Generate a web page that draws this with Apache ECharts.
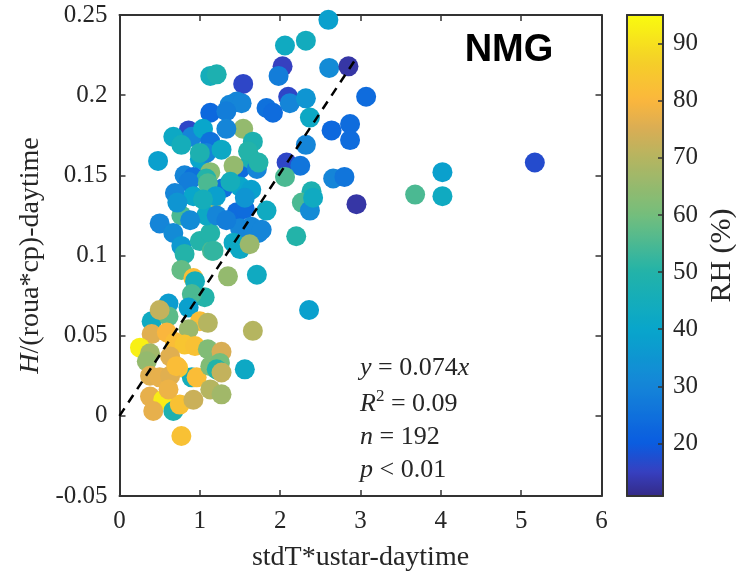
<!DOCTYPE html>
<html><head><meta charset="utf-8">
<script src="https://cdn.jsdelivr.net/npm/echarts@6/dist/echarts.min.js"></script>
<style>html,body{margin:0;padding:0;background:#fff}#c{width:736px;height:578px}</style>
</head><body><div id="c"></div>
<script>
// stdT*ustar-daytime
const xVals=[2.60,2.06,2.32,2.03,1.98,2.61,2.85,3.07,2.10,2.12,2.32,1.83,1.91,2.37,2.64,2.87,2.87,2.32,2.08,2.25,
2.06,2.66,2.80,2.95,2.39,2.27,2.37,2.41,2.20,5.17,4.02,3.68,4.02,2.36,1.66,1.71,1.35,1.83,1.58,1.73,
1.13,1.21,1.54,1.46,1.37,1.52,1.13,1.33,0.86,0.90,0.67,0.77,1.04,1.54,1.33,1.66,1.13,1.00,1.08,0.48,
1.10,1.50,1.64,1.60,1.71,1.42,0.81,0.92,1.13,1.08,1.73,0.86,0.69,0.92,1.15,1.29,1.10,1.50,1.64,0.50,
0.77,0.67,0.77,0.81,0.77,1.00,1.15,1.13,1.08,1.21,1.46,1.56,1.50,1.64,1.77,1.42,1.50,1.62,1.17,0.92,
0.94,1.06,0.90,0.61,0.86,0.40,0.61,0.50,1.00,1.10,0.86,0.40,0.59,0.255,0.69,0.81,0.94,0.38,1.10,1.27,
0.34,0.63,0.90,0.73,0.38,0.50,0.63,0.96,1.13,1.25,1.13,1.56,1.21,1.27,0.38,0.545,0.67,0.75,0.92,0.61,
0.42,0.77,1.27,0.71,1.00,1.27,1.38,1.20,1.33,1.56,0.88,1.04,0.72];
// H/(roua*cp)-daytime
const yVals=[0.247,0.231,0.234,0.218,0.212,0.217,0.218,0.199,0.199,0.195,0.198,0.192,0.189,0.186,0.178,0.182,0.172,0.169,0.158,0.156,
0.149,0.148,0.149,0.132,0.140,0.133,0.128,0.136,0.112,0.158,0.152,0.138,0.137,0.066,0.053,0.088,0.087,0.128,0.116,0.114,
0.212,0.213,0.207,0.196,0.194,0.195,0.189,0.190,0.178,0.174,0.174,0.169,0.179,0.179,0.179,0.171,0.171,0.160,0.164,0.159,
0.150,0.154,0.160,0.165,0.154,0.156,0.150,0.149,0.152,0.148,0.158,0.146,0.139,0.137,0.134,0.142,0.145,0.143,0.141,0.120,
0.125,0.114,0.106,0.101,0.091,0.109,0.103,0.114,0.125,0.125,0.127,0.129,0.117,0.118,0.116,0.108,0.104,0.107,0.103,0.086,
0.084,0.074,0.076,0.070,0.0675,0.059,0.062,0.066,0.059,0.058,0.054,0.051,0.052,0.0425,0.046,0.0445,0.0435,0.039,0.0415,0.040,
0.034,0.037,0.024,0.030,0.025,0.024,0.025,0.024,0.031,0.033,0.0165,0.029,0.029,0.0134,0.012,0.010,0.003,0.007,0.010,0.0165,
0.003,-0.0126,0.027,0.031,0.164,0.166,0.146,0.137,0.122,0.136,0.122,0.135,0.133];
// RH (%)
const rhVals=[38,43,44,15,28,32,13,24,16,30,35,25,24,42,23,24,24,30,16,26,
55,30,26,13,48,55,32,43,50,17,38,55,43,38,70,43,65,43,30,30,
45,48,16,30,30,30,23,28,16,30,42,45,40,65,30,48,25,40,30,38,
50,24,48,50,30,65,30,25,63,50,50,28,30,40,66,25,55,40,38,30,
55,32,36,50,58,50,55,50,42,30,24,24,30,30,30,42,42,66,52,82,
45,50,55,37,38,43,57,72,82,70,66,76,80,93,82,84,83,67,62,75,
65,76,45,84,76,77,76,82,62,60,70,42,50,67,77,92,48,83,73,78,
77,83,72,82,48,42,45,38,28,35,32,45,35];
const regX=[0,2.92];
const regY=[0,0.221];
const cbTicks=[20,30,40,50,60,70,80,90];
const rhMin=10.8, rhMax=95;
// colour stops (RH value -> colour)
const stopVals=[10.8,15,20,30,40,50,60,70,75,80,87,95];
const stopCols=['#352a87','#3640c0','#0a5ce0','#1585d8','#08a6cb','#22b3a9','#74be7c','#b5b560','#d9ad55','#fbb63d','#f5d028','#f9fb0e'];

function hex2rgb(h){return [1,3,5].map(i=>parseInt(h.substr(i,2),16));}
function colAt(v){
  let k=0; while(k<stopVals.length-2 && v>stopVals[k+1]) k++;
  const t=Math.min(1,Math.max(0,(v-stopVals[k])/(stopVals[k+1]-stopVals[k])));
  const a=hex2rgb(stopCols[k]), b=hex2rgb(stopCols[k+1]);
  return 'rgb('+a.map((c,j)=>Math.round(c+(b[j]-c)*t)).join(',')+')';
}
const ramp=[]; for(let i=0;i<=120;i++) ramp.push(colAt(rhMin+(rhMax-rhMin)*i/120));

const pts=xVals.map((x,i)=>[x,yVals[i],rhVals[i]]);
const serif='Liberation Serif';
const axC='#333';
const txC='#262626';
const line={show:true,onZero:false,lineStyle:{color:axC,width:2}};
const tick={show:true,inside:true,length:6,lineStyle:{color:axC,width:1.5}};
const G0={left:119.5,top:15,width:482,height:481};
const G1={left:627,top:15,width:36,height:481};
const chart=echarts.init(document.getElementById('c'));
chart.setOption({
  animation:false,
  backgroundColor:'#fff',
  grid:[Object.assign({containLabel:false,outerBoundsMode:'none'},G0),Object.assign({containLabel:false,outerBoundsMode:'none'},G1)],
  xAxis:[
    {gridIndex:0,type:'value',min:0,max:6,interval:1,axisLine:line,axisTick:tick,splitLine:{show:false},
     axisLabel:{fontFamily:serif,fontSize:25,color:txC,margin:13},
     name:'stdT*ustar-daytime',nameLocation:'middle',nameGap:48,
     nameTextStyle:{fontFamily:serif,fontSize:28,color:txC}},
    {gridIndex:0,type:'value',position:'top',min:0,max:6,interval:1,axisLine:line,axisTick:tick,splitLine:{show:false},axisLabel:{show:false}},
    {gridIndex:1,type:'value',min:0,max:1,axisLine:line,axisTick:{show:false},axisLabel:{show:false},splitLine:{show:false},z:10},
    {gridIndex:1,type:'value',position:'top',min:0,max:1,axisLine:line,axisTick:{show:false},axisLabel:{show:false},splitLine:{show:false},z:10}
  ],
  yAxis:[
    {gridIndex:0,type:'value',min:-0.05,max:0.25,interval:0.05,axisLine:line,axisTick:tick,splitLine:{show:false},
     axisLabel:{fontFamily:serif,fontSize:25,color:txC,margin:12,formatter:v=>String(+v.toFixed(2))},
     name:'{i|H}/(roua*cp)-daytime',nameLocation:'middle',nameGap:74,
     nameTextStyle:{fontFamily:serif,fontSize:28,color:txC,rich:{i:{fontFamily:serif,fontStyle:'italic',fontSize:28,color:txC}}}},
    {gridIndex:0,type:'value',position:'right',min:-0.05,max:0.25,interval:0.05,axisLine:line,axisTick:tick,splitLine:{show:false},axisLabel:{show:false}},
    {gridIndex:1,type:'value',min:rhMin,max:rhMax,axisLine:line,axisTick:{show:false},axisLabel:{show:false},splitLine:{show:false},z:10},
    {gridIndex:1,type:'value',position:'right',min:rhMin,max:rhMax,axisLine:line,
     axisTick:{show:true,inside:true,length:5,customValues:cbTicks,lineStyle:{color:axC,width:1.5}},
     axisLabel:{fontFamily:serif,fontSize:25,color:txC,margin:10,customValues:cbTicks},
     splitLine:{show:false},z:10,
     name:'RH (%)',nameLocation:'middle',nameGap:44,nameRotate:90,nameMoveOverlap:false,
     nameTextStyle:{fontFamily:serif,fontSize:30,color:txC}}
  ],
  visualMap:{type:'continuous',seriesIndex:0,dimension:2,min:rhMin,max:rhMax,show:true,calculable:false,
    left:627,top:15,itemWidth:36,itemHeight:481,padding:0,text:null,
    inRange:{color:ramp}},
  series:[
    {type:'scatter',xAxisIndex:0,yAxisIndex:0,data:pts,symbolSize:20,itemStyle:{opacity:1},z:2},
    {type:'line',xAxisIndex:0,yAxisIndex:0,data:regX.map((x,i)=>[x,regY[i]]),symbol:'none',
     lineStyle:{color:'#000',width:2.5,type:[9,7]},z:5}
  ],
  graphic:[
    {type:'text',x:509,y:51,style:{text:'NMG',fontFamily:'Liberation Sans',fontWeight:'bold',fontSize:38,fill:'#000',align:'center',verticalAlign:'middle'}},
    {type:'text',x:360,y:368,style:{text:'{i|y} = 0.074{i|x}',fontFamily:serif,fontSize:26,fill:txC,verticalAlign:'middle',
      rich:{i:{fontFamily:serif,fontStyle:'italic',fontSize:26,fill:txC}}}},
    {type:'text',x:360,y:404,style:{text:'{i|R}{s|2} = 0.09',fontFamily:serif,fontSize:26,fill:txC,verticalAlign:'middle',
      rich:{i:{fontFamily:serif,fontStyle:'italic',fontSize:26,fill:txC},s:{fontFamily:serif,fontSize:17,fill:txC,padding:[0,0,14,0]}}}},
    {type:'text',x:360,y:437,style:{text:'{i|n} = 192',fontFamily:serif,fontSize:26,fill:txC,verticalAlign:'middle',
      rich:{i:{fontFamily:serif,fontStyle:'italic',fontSize:26,fill:txC}}}},
    {type:'text',x:360,y:470,style:{text:'{i|p} < 0.01',fontFamily:serif,fontSize:26,fill:txC,verticalAlign:'middle',
      rich:{i:{fontFamily:serif,fontStyle:'italic',fontSize:26,fill:txC}}}}
  ]
});
</script></body></html>
